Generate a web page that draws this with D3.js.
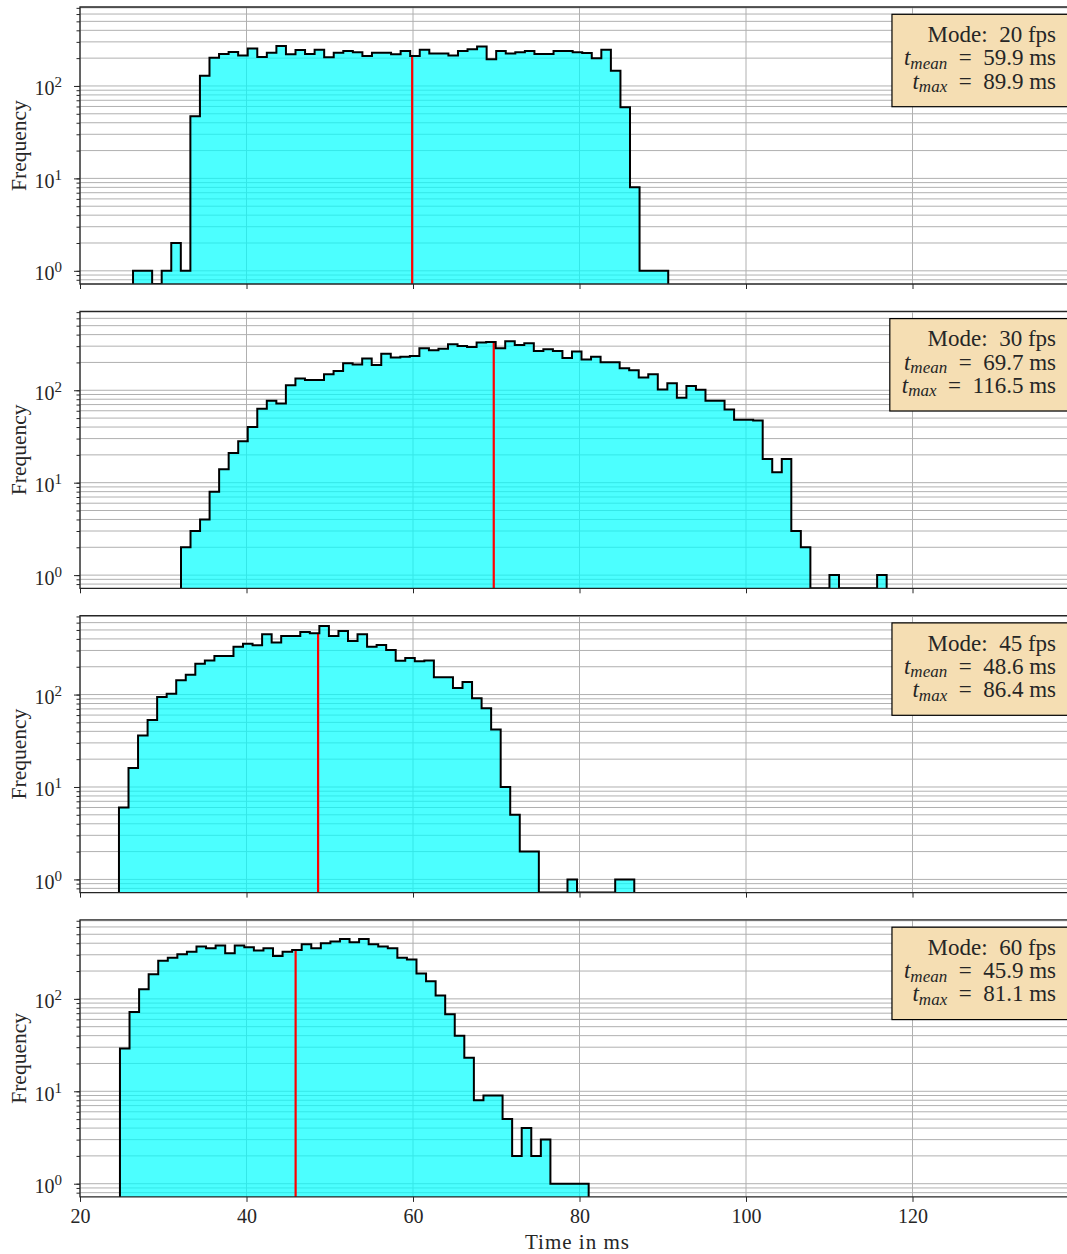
<!DOCTYPE html>
<html>
<head>
<meta charset="UTF-8">
<title>Frame time histograms</title>
<style>
  body { margin: 0; background: #fff; overflow: hidden; }
  svg { display: block; }
  text { font-family: "Liberation Serif", "Times New Roman", serif; fill: #262626; }
  .grid line { stroke: #b0b0b0; stroke-width: 1; }
  .axis path, .axis line { stroke: #262626; }
</style>
</head>
<body>
<svg></svg>
<script src="https://d3js.org/d3.v7.min.js"></script>
<script>

const width = 1067, height = 1254;

// one panel per capture mode
const modes = ["20", "30", "45", "60"];
const meanMs = [59.9, 69.7, 48.6, 45.9];
const maxMs = [89.9, 116.5, 86.4, 81.1];

// first bin edge and bin width (ms) of each histogram
const binStart = [26.37, 32.13, 24.68, 24.80];
const binWidth = [1.148, 1.1455, 1.1463, 1.149];

// bin counts
const counts20 = [1,1,0,1,2,1,47,129,202,222,233,213,255,206,229,271,220,245,222,246,
  204,229,239,232,211,229,229,220,239,211,246,225,225,213,239,250,268,195,239,225,
  231,239,222,222,239,239,232,227,199,246,146,59,8,1,1,1];
const counts30 = [2,3,4,8,14,21,28,40,63,77,72,113,134,129,129,149,162,196,190,220,
  188,249,226,231,235,284,271,282,314,301,294,328,333,284,339,309,322,266,277,266,
  224,262,215,231,201,201,173,165,137,149,102,119,83,111,101,77,77,62,48,48,
  47,18,13,18,3,2,0,0,1,0,0,0,0,1];
const counts45 = [6,16,36,53,94,102,143,164,216,234,261,261,330,355,341,449,365,430,430,475,
  460,552,430,488,380,449,330,344,303,232,248,229,234,154,154,118,137,91,71,42,
  10,5,2,2,0,0,0,1,0,0,0,0,1,1];
const counts60 = [29,72,127,185,259,279,303,324,368,352,377,311,377,361,333,352,290,324,338,390,
  352,400,417,445,410,445,390,368,352,279,267,188,155,109,68,40,23,8,9,9,
  5,2,4,2,3,1,1,1,1];
const allCounts = [counts20, counts30, counts45, counts60];

const xTicks = [20, 40, 60, 80, 100, 120];
const yTicks = [1, 10, 100];

let svg = d3.select("svg")
    .attr("width", width)
    .attr("height", height);

let plotLeft = 80, plotRight = 1075;
let panelH = 277, panelStep = 304.3, firstTop = 7;

let x = d3.scaleLinear()
    .domain([20, 20 + (plotRight - plotLeft) / 8.325])
    .range([plotLeft, plotRight]);

modes.forEach((mode, p) => {
    let top = firstTop + p * panelStep;
    let counts = allCounts[p];
    let g = svg.append("g").attr("transform", "translate(0," + top + ")");

    let y = d3.scaleLog().domain([0.72, 715]).range([panelH, 0]);
    let yv = c => c > 0 ? y(c) : panelH;

    g.append("clipPath").attr("id", "clip" + p)
      .append("rect")
        .attr("x", plotLeft).attr("y", 0)
        .attr("width", plotRight - plotLeft).attr("height", panelH);

    // grid: all log ticks horizontally, major x ticks vertically
    let grid = g.append("g").attr("class", "grid");
    grid.selectAll(".hy")
        .data(y.ticks())
        .enter().append("line")
        .attr("x1", plotLeft).attr("x2", plotRight)
        .attr("y1", d => y(d)).attr("y2", d => y(d));
    grid.selectAll(".vx")
        .data(xTicks)
        .enter().append("line")
        .attr("x1", d => x(d)).attr("x2", d => x(d))
        .attr("y1", 0).attr("y2", panelH);

    // step points of the histogram
    let pts = [{t: binStart[p], c: 0}];
    counts.forEach((c, i) => {
        pts.push({t: binStart[p] + i * binWidth[p], c: c});
        pts.push({t: binStart[p] + (i + 1) * binWidth[p], c: c});
    });
    pts.push({t: binStart[p] + counts.length * binWidth[p], c: 0});

    let hist = g.append("g").attr("clip-path", "url(#clip" + p + ")");
    hist.append("path")
        .datum(pts)
        .attr("d", d3.area().x(d => x(d.t)).y0(panelH).y1(d => yv(d.c)))
        .attr("fill", "#00ffff")
        .attr("fill-opacity", 0.7);

    // mean marker up to the bar that holds it
    let k = Math.floor((meanMs[p] - binStart[p]) / binWidth[p]);
    hist.append("line")
        .attr("x1", x(meanMs[p])).attr("x2", x(meanMs[p]))
        .attr("y1", panelH).attr("y2", yv(counts[k]))
        .attr("stroke", "#ff0000")
        .attr("stroke-width", 2.2);

    hist.append("path")
        .datum(pts)
        .attr("d", d3.line().x(d => x(d.t)).y(d => yv(d.c)))
        .attr("fill", "none")
        .attr("stroke", "#000")
        .attr("stroke-width", 2);

    // axes
    let xa = g.append("g").attr("class", "axis")
        .attr("transform", "translate(0," + panelH + ")")
        .call(d3.axisBottom(x).tickValues(xTicks).tickSize(5).tickPadding(7)
            .tickFormat(p === 3 ? d3.format("d") : ""));
    xa.select(".domain").remove();
    xa.selectAll("text").attr("font-size", 20).attr("font-family", "Liberation Serif").attr("fill", "#262626");

    let ya = g.append("g").attr("class", "axis")
        .attr("transform", "translate(" + plotLeft + ",0)")
        .call(d3.axisLeft(y).tickValues(y.ticks()).tickSize(3.5).tickFormat(""));
    ya.select(".domain").remove();

    let yMajor = g.append("g").attr("class", "axis")
        .attr("transform", "translate(" + plotLeft + ",0)")
        .call(d3.axisLeft(y).tickValues(yTicks).tickSize(6).tickPadding(12));
    yMajor.select(".domain").remove();
    yMajor.selectAll(".tick text")
        .attr("font-size", 20)
        .attr("font-family", "Liberation Serif")
        .attr("fill", "#262626")
        .attr("dy", "0.45em")
        .text(null)
        .each(function(d) {
            let t = d3.select(this);
            t.append("tspan").text("10");
            t.append("tspan").attr("dy", -8).attr("font-size", 15).text(Math.round(Math.log10(d)));
        });

    // spines (right one falls outside the picture)
    g.append("path")
        .attr("d", "M" + plotRight + ",0H" + plotLeft + "V" + panelH + "H" + plotRight)
        .attr("fill", "none")
        .attr("stroke", "#262626")
        .attr("stroke-width", 1.3);

    g.append("text")
        .attr("transform", "translate(26," + (panelH / 2) + ") rotate(-90)")
        .attr("text-anchor", "middle")
        .attr("font-size", 21.5)
        .text("Frequency");

    // info box
    let box = g.append("g");
    let rect = box.append("rect");
    let tx = 1056, fs = 23;
    let l1 = box.append("text").attr("x", tx).attr("y", 35)
        .attr("text-anchor", "end").attr("font-size", fs)
        .style("white-space", "pre")
        .text("Mode:  " + mode + " fps");
    let l2 = box.append("text").attr("x", tx).attr("y", 58.4)
        .attr("text-anchor", "end").attr("font-size", fs)
        .style("white-space", "pre");
    l2.append("tspan").attr("font-style", "italic").text("t");
    l2.append("tspan").attr("font-style", "italic").attr("font-size", 17).attr("dy", 3.5).text("mean");
    l2.append("tspan").attr("dy", -3.5).text("\u2002=\u2002" + meanMs[p].toFixed(1) + " ms");
    let l3 = box.append("text").attr("x", tx).attr("y", 81.6)
        .attr("text-anchor", "end").attr("font-size", fs)
        .style("white-space", "pre");
    l3.append("tspan").attr("font-style", "italic").text("t");
    l3.append("tspan").attr("font-style", "italic").attr("font-size", 17).attr("dy", 3.5).text("max");
    l3.append("tspan").attr("dy", -3.5).text("\u2002=\u2002" + maxMs[p].toFixed(1) + " ms");

    let minX = d3.min([l1, l2, l3], t => t.node().getBBox().x);
    rect.attr("x", minX - 12).attr("y", 7.3)
        .attr("width", 1090 - minX).attr("height", 92.4)
        .attr("fill", "#f5deb3")
        .attr("stroke", "#000")
        .attr("stroke-width", 1.2);
});

svg.append("text")
    .attr("x", (plotLeft + plotRight) / 2)
    .attr("y", 1249)
    .attr("text-anchor", "middle")
    .attr("font-size", 21)
    .attr("letter-spacing", 1)
    .text("Time in ms");

</script>
</body>
</html>
